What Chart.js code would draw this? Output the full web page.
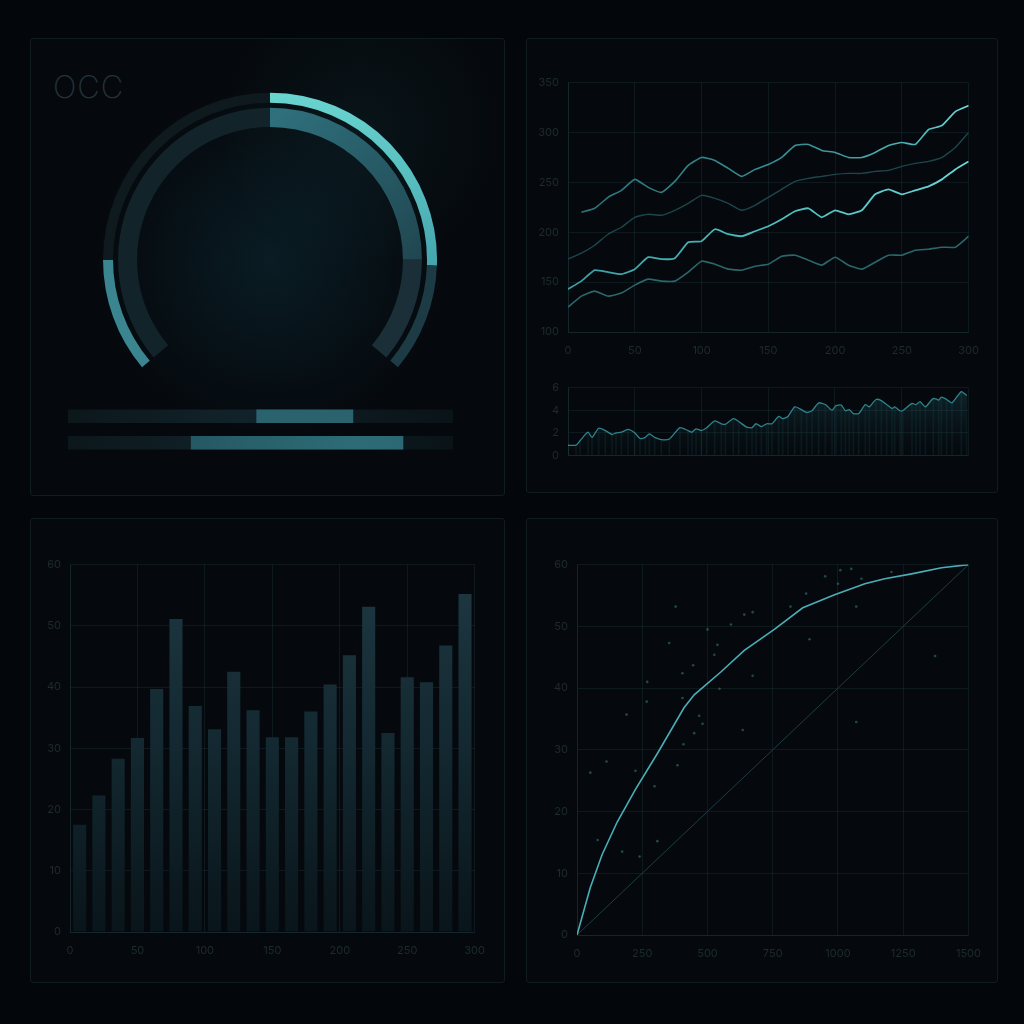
<!DOCTYPE html>
<html>
<head>
<meta charset="utf-8">
<script src="https://cdn.jsdelivr.net/npm/chart.js@4.4.1/dist/chart.umd.min.js"></script>
<style>
  html, body { margin: 0; padding: 0; background: #03060a; }
  body { width: 1024px; height: 1024px; position: relative; overflow: hidden; font-family: Inter, "DejaVu Sans", sans-serif; }
  .panel { position: absolute; box-sizing: border-box; border: 1px solid #111c21; border-radius: 3px; background: #05090d; }
  #p1 { left: 30px; top: 38px; width: 475px; height: 458px;
        background:
          radial-gradient(circle at 330px 90px, rgba(40,120,130,0.10) 0, rgba(40,120,130,0) 140px),
          radial-gradient(circle at 240px 222px, #0a1c24 0, #071218 90px, #05090d 175px); }
  #p2 { left: 526px; top: 38px; width: 472px; height: 455px; }
  #p3 { left: 30px; top: 518px; width: 475px; height: 465px; }
  #p4 { left: 526px; top: 518px; width: 472px; height: 465px; }
  canvas { position: absolute; }
  #title { position: absolute; left: 53px; top: 68px; font-size: 31px; font-weight: 200; color: #24333a; letter-spacing: 1px; }
</style>
</head>
<body>
<div class="panel" id="p1"></div>
<div class="panel" id="p2"></div>
<div class="panel" id="p3"></div>
<div class="panel" id="p4"></div>
<div id="title">OCC</div>

<canvas id="gauge" width="334" height="280" style="left:103px; top:90px;"></canvas>
<canvas id="progress" width="385" height="53" style="left:68px; top:403px;"></canvas>
<canvas id="lines" width="461" height="289" style="left:530px; top:67px;"></canvas>
<canvas id="spark" width="450" height="99" style="left:530px; top:372px;"></canvas>
<canvas id="bars" width="467" height="413" style="left:30px; top:549px;"></canvas>
<canvas id="curve" width="456" height="416" style="left:537px; top:549px;"></canvas>

<script>
// ---- data ----
// gauge segments (degrees of a 260 degree arc)
const gaugeOuter = [40, 90, 92, 38];
const gaugeGap = [260];
const gaugeInner = [130, 90, 40];

// two progress bars under the gauge
const progCats = ['A', 'B'];
const progTrack = [[0, 100], [0, 100]];
const progFill = [[49, 74], [32, 87]];

// top-right line chart
const lineX = [0, 10, 20, 30, 40, 50, 60, 70, 80, 90, 100, 110, 120, 130, 140, 150,
               160, 170, 180, 190, 200, 210, 220, 230, 240, 250, 260, 270, 280, 290, 300];
const seriesA = [null, 220, 224, 235, 242, 253, 245, 240, 251, 267, 275, 272, 264, 256, 263, 268,
                 275, 287, 288, 282, 280, 275, 275, 280, 287, 290, 288, 303, 307, 321, 327];
const seriesB = [173, 179, 187, 198, 205, 215, 218, 217, 222, 229, 237, 234, 229, 222, 227, 235,
                 243, 251, 254, 256, 258, 259, 259, 261, 262, 266, 269, 271, 275, 285, 300];
const seriesC = [143, 151, 162, 160, 158, 163, 175, 173, 174, 190, 191, 203, 198, 196, 201, 206,
                 213, 221, 224, 215, 222, 218, 222, 238, 243, 238, 242, 246, 253, 263, 271];
const seriesD = [125, 136, 141, 136, 139, 147, 153, 151, 151, 160, 171, 168, 163, 162, 166, 168,
                 176, 177, 172, 167, 175, 167, 163, 170, 177, 177, 182, 183, 185, 185, 196];

// small area chart below it
const sparkX = [0, 6, 9, 15, 18, 23, 28, 33, 36, 40, 45, 50, 54, 58, 61, 65, 70, 76, 84, 90,
                93, 96, 100, 104, 110, 115, 118, 124, 128, 134, 138, 141, 145, 149, 153, 158, 161, 165, 170, 175,
                179, 183, 188, 193, 198, 201, 205, 208, 211, 214, 218, 223, 226, 231, 235, 239, 243, 245, 249, 251,
                258, 261, 264, 268, 274, 278, 280, 284, 288, 295, 299];
const sparkY = [0.9, 0.9, 1.3, 2.05, 1.6, 2.4, 2.2, 1.85, 2.0, 2.05, 2.3, 2.0, 1.5, 1.6, 1.9, 1.6, 1.4, 1.45, 2.45, 2.2,
                2.05, 2.35, 2.2, 2.45, 3.05, 2.8, 2.75, 3.25, 3.0, 2.5, 2.45, 2.8, 2.55, 2.8, 2.8, 3.45, 3.25, 3.45, 4.3, 4.05,
                3.8, 3.95, 4.65, 4.5, 4.0, 4.4, 4.45, 3.95, 4.05, 3.7, 3.7, 4.5, 4.3, 4.95, 4.85, 4.5, 4.15, 4.3, 3.95, 3.95,
                4.6, 4.5, 4.75, 4.3, 5.05, 4.9, 5.15, 4.95, 4.65, 5.65, 5.3];

// bottom-left bar chart
const barCats = ['1', '2', '3', '4', '5', '6', '7', '8', '9', '10', '11', '12', '13', '14', '15', '16', '17', '18', '19', '20', '21'];
const barVals = [17.5, 22.3, 28.3, 31.7, 39.7, 51.1, 36.9, 33.1, 42.5, 36.2, 31.8, 31.8, 36.0, 40.4, 45.2, 53.1, 32.5, 41.6, 40.8, 46.8, 55.2];

// bottom-right curve
const curveX = [0, 51, 96, 154, 224, 308, 410, 449, 551, 641, 756, 865, 987, 1103, 1179, 1282, 1397, 1500];
const curveY = [0, 7.7, 13.0, 18.3, 23.6, 29.4, 36.8, 38.9, 42.6, 46.1, 49.5, 53.0, 55.1, 56.9, 57.7, 58.5, 59.5, 60];
const diagX = [0, 1500];
const diagY = [0, 60];
const dotX = [378, 353, 538, 526, 445, 404, 673, 269, 267, 190, 468, 481, 449, 635, 408, 385, 224, 297, 113, 51,
              79, 173, 240, 308, 1070, 1372, 891, 818, 878, 951, 1000, 1009, 1051, 1090, 1205, 1070, 590, 641, 673, 500, 546, 404];
const dotY = [53.2, 47.3, 47.0, 45.4, 43.7, 42.4, 42.0, 41.0, 37.8, 35.7, 35.5, 34.2, 32.7, 33.2, 30.9, 27.5, 26.6, 24.1, 28.1, 26.3,
              15.4, 13.5, 12.7, 15.2, 34.5, 45.2, 47.9, 53.2, 55.3, 58.1, 56.9, 59.1, 59.3, 57.7, 58.8, 53.2, 50.3, 51.9, 52.3, 49.5, 39.9, 38.4];

// ---- shared style ----
Chart.defaults.animation = false;
Chart.defaults.responsive = false;
Chart.defaults.font.family = 'Inter, "DejaVu Sans", sans-serif';
Chart.defaults.font.size = 11;
Chart.defaults.color = '#1d2b31';
Chart.defaults.plugins.legend.display = false;
Chart.defaults.plugins.tooltip.enabled = false;

const gridColor = 'rgba(60,105,115,0.17)';
const pts = (xs, ys) => xs.map((x, i) => ({ x: x, y: ys[i] }));

function hGrad(c, stops, fallback) {
  const { ctx, chartArea } = c.chart;
  if (!chartArea) return fallback;
  const g = ctx.createLinearGradient(chartArea.left, 0, chartArea.right, 0);
  stops.forEach(s => g.addColorStop(s[0], s[1]));
  return g;
}
function vGrad(c, stops, fallback) {
  const { ctx, chartArea } = c.chart;
  if (!chartArea) return fallback;
  const g = ctx.createLinearGradient(0, chartArea.top, 0, chartArea.bottom);
  stops.forEach(s => g.addColorStop(s[0], s[1]));
  return g;
}
function axis(min, max, step, size, isX, extra) {
  return Object.assign({
    type: 'linear', min: min, max: max, offset: false,
    ticks: { stepSize: step, padding: isX ? 12 : 9, callback: v => String(v) },
    grid: { color: gridColor, drawTicks: false, offset: false },
    border: { color: gridColor },
    afterFit: s => { if (isX) s.height = size; else s.width = size; }
  }, extra || {});
}

// ---- gauge ----
new Chart(document.getElementById('gauge'), {
  type: 'doughnut',
  data: {
    datasets: [
      {
        data: gaugeOuter, weight: 10, borderWidth: 0,
        backgroundColor: c => {
          if (c.dataIndex === 2) {
            const g = c.chart.ctx.createLinearGradient(0, 0, 0, 175);
            g.addColorStop(0, '#6ad6d0');
            g.addColorStop(1, '#45a5ae');
            return g;
          }
          return ['#3a8590', '#0f1a1f', '#5ec8c6', '#1d3b44'][c.dataIndex];
        }
      },
      { data: gaugeGap, weight: 5, borderWidth: 0, backgroundColor: 'rgba(0,0,0,0)' },
      {
        data: gaugeInner, weight: 19, borderWidth: 0,
        backgroundColor: c => {
          if (c.dataIndex === 1) {
            const g = c.chart.ctx.createLinearGradient(170, 0, 330, 180);
            g.addColorStop(0, '#2f7480');
            g.addColorStop(1, '#1f434d');
            return g;
          }
          return ['#13232a', '#2c6b76', '#1a2f37'][c.dataIndex];
        }
      }
    ]
  },
  options: { rotation: -130, circumference: 260, cutout: '79.6%', layout: { padding: 0 } }
});

// ---- progress bars ----
new Chart(document.getElementById('progress'), {
  type: 'bar',
  data: {
    labels: progCats,
    datasets: [
      {
        data: progFill, barThickness: 13, grouped: false, borderWidth: 0,
        backgroundColor: c => c.dataIndex === 0 ? '#2a626d'
          : hGrad(c, [[0, '#1e4a55'], [0.75, '#2d6c77'], [1, '#2a6470']], '#2a6470')
      },
      {
        data: progTrack, barThickness: 13, grouped: false, borderWidth: 0,
        backgroundColor: c => hGrad(c, [[0, '#0c171b'], [0.45, '#11232a'], [0.7, '#0d1a1f'], [1, '#0a1418']], '#0e1a1f')
      }
    ]
  },
  options: {
    indexAxis: 'y',
    layout: { padding: 0 },
    scales: { x: { display: false, min: 0, max: 100 }, y: { display: false } }
  }
});

// ---- top-right lines ----
new Chart(document.getElementById('lines'), {
  type: 'line',
  data: {
    datasets: [
      { data: pts(lineX, seriesB), borderColor: '#1c464c', borderWidth: 1.4, pointRadius: 0, tension: 0.15 },
      { data: pts(lineX, seriesD), borderColor: '#2a666a', borderWidth: 1.6, pointRadius: 0, tension: 0.15 },
      {
        data: pts(lineX, seriesA), borderWidth: 1.6, pointRadius: 0, tension: 0.15,
        borderColor: c => hGrad(c, [[0, '#2b7177'], [0.6, '#3b9096'], [0.88, '#4fb6b8'], [1, '#73dede']], '#3b9096')
      },
      {
        data: pts(lineX, seriesC), borderWidth: 1.8, pointRadius: 0, tension: 0.15,
        borderColor: c => hGrad(c, [[0, '#3a9ea2'], [0.5, '#4cbcbe'], [1, '#6ad8d8']], '#4cbcbe')
      }
    ]
  },
  options: {
    layout: { padding: { top: 8, right: 0 } },
    scales: {
      x: axis(0, 300, 50, 24, true),
      y: axis(100, 350, 50, 38, false)
    }
  }
});

// ---- small area chart ----
new Chart(document.getElementById('spark'), {
  type: 'line',
  data: {
    datasets: [
      {
        data: pts(sparkX, sparkY), borderColor: '#2f828a', borderWidth: 1.3, pointRadius: 0, tension: 0.2,
        fill: 'origin',
        backgroundColor: c => vGrad(c, [[0, 'rgba(40,110,120,0.30)'], [1, 'rgba(20,50,60,0.02)']], 'rgba(30,80,90,0.2)')
      },
      {
        type: 'bar', data: pts(sparkX, sparkY), barThickness: 1, borderWidth: 0,
        backgroundColor: 'rgba(50,120,130,0.12)'
      }
    ]
  },
  options: {
    layout: { padding: { top: 8, right: 12, bottom: 4 } },
    scales: {
      x: axis(0, 300, 50, 0, true, { ticks: { display: false, stepSize: 50 } }),
      y: axis(0, 6, 2, 38, false)
    }
  }
});

// ---- bottom-left bars ----
new Chart(document.getElementById('bars'), {
  type: 'bar',
  data: {
    labels: barCats,
    datasets: [{
      data: barVals, borderWidth: 0, categoryPercentage: 1, barPercentage: 0.68,
      backgroundColor: c => vGrad(c, [[0, '#1e3842'], [0.5, '#132830'], [1, '#09151a']], '#15282f')
    }]
  },
  options: {
    layout: { padding: { top: 8, right: 0 } },
    scales: {
      x: { type: 'category', display: false, grid: { display: false } },
      x2: axis(0, 300, 50, 30, true, { position: 'bottom' }),
      y: axis(0, 60, 10, 40, false)
    }
  }
});

// ---- bottom-right curve ----
new Chart(document.getElementById('curve'), {
  type: 'scatter',
  data: {
    datasets: [
      { data: pts(curveX, curveY), showLine: true, borderColor: '#4aaeb8', borderWidth: 1.6, pointRadius: 0, tension: 0 },
      { data: pts(diagX, diagY), showLine: true, borderColor: '#1d3d44', borderWidth: 1, pointRadius: 0 },
      { data: pts(dotX, dotY), pointRadius: 1.3, pointBackgroundColor: 'rgba(70,150,160,0.45)', pointBorderWidth: 0 }
    ]
  },
  options: {
    layout: { padding: { top: 8, right: 0 } },
    scales: {
      x: axis(0, 1500, 250, 30, true),
      y: axis(0, 60, 10, 40, false)
    }
  }
});
</script>
</body>
</html>
